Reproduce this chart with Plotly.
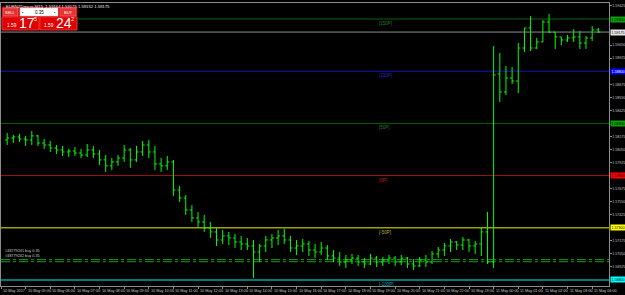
import plotly.graph_objects as go
import pandas as pd

# ---------------- data ----------------
bar_open = [1.58141, 1.58160, 1.58170, 1.58151, 1.58141, 1.58180, 1.58112, 1.58093, 1.58064, 1.58045,
            1.58026, 1.58035, 1.58016, 1.57997, 1.58045, 1.58007, 1.57950, 1.57893, 1.57931, 1.57968,
            1.58045, 1.57950, 1.58026, 1.58093, 1.58026, 1.57912, 1.57893, 1.57931, 1.57662, 1.57585,
            1.57471, 1.57394, 1.57356, 1.57298, 1.57260, 1.57183, 1.57222, 1.57202, 1.57164, 1.57145,
            1.57126, 1.57068, 1.57126, 1.57183, 1.57202, 1.57222, 1.57183, 1.57106, 1.57126, 1.57145,
            1.57087, 1.57068, 1.57106, 1.57030, 1.57010, 1.56972, 1.56991, 1.57010, 1.56972, 1.56953,
            1.57010, 1.56972, 1.56991, 1.57010, 1.56972, 1.57010, 1.56953, 1.56934, 1.56991, 1.56972,
            1.57049, 1.57087, 1.57126, 1.57164, 1.57135, 1.57183, 1.57126, 1.57145, 1.57260, 1.56972,
            1.58773, 1.58601, 1.58735, 1.58706, 1.59022, 1.59214, 1.59022, 1.59080, 1.59271, 1.59175,
            1.59128, 1.59099, 1.59118, 1.59128, 1.59070, 1.59118, 1.59195]
bar_high = [1.58208, 1.58189, 1.58199, 1.58180, 1.58227, 1.58189, 1.58151, 1.58131, 1.58093, 1.58084,
            1.58055, 1.58074, 1.58055, 1.58103, 1.58084, 1.58045, 1.57997, 1.57968, 1.57997, 1.58093,
            1.58064, 1.58084, 1.58131, 1.58141, 1.58084, 1.57968, 1.57988, 1.57950, 1.57701, 1.57614,
            1.57518, 1.57452, 1.57423, 1.57356, 1.57298, 1.57279, 1.57260, 1.57241, 1.57222, 1.57202,
            1.57183, 1.57145, 1.57222, 1.57241, 1.57279, 1.57289, 1.57222, 1.57183, 1.57193, 1.57173,
            1.57145, 1.57164, 1.57135, 1.57087, 1.57068, 1.57039, 1.57049, 1.57039, 1.57010, 1.57049,
            1.57030, 1.57020, 1.57039, 1.57030, 1.57039, 1.57020, 1.57001, 1.57020, 1.57039, 1.57077,
            1.57116, 1.57154, 1.57193, 1.57173, 1.57212, 1.57193, 1.57173, 1.57298, 1.57452, 1.59041,
            1.58974, 1.58850, 1.58840, 1.59070, 1.59214, 1.59329, 1.59118, 1.59290, 1.59348, 1.59175,
            1.59128, 1.59147, 1.59204, 1.59185, 1.59137, 1.59233, 1.59214]
bar_low = [1.58093, 1.58112, 1.58122, 1.58084, 1.58093, 1.58084, 1.58055, 1.58026, 1.58007, 1.57988,
           1.57978, 1.57988, 1.57968, 1.57978, 1.57968, 1.57902, 1.57835, 1.57854, 1.57893, 1.57931,
           1.57873, 1.57931, 1.57988, 1.57968, 1.57854, 1.57835, 1.57854, 1.57605, 1.57547, 1.57423,
           1.57356, 1.57298, 1.57260, 1.57202, 1.57126, 1.57145, 1.57135, 1.57106, 1.57087, 1.57087,
           1.56819, 1.56972, 1.57068, 1.57106, 1.57135, 1.57145, 1.57068, 1.57039, 1.57068, 1.57030,
           1.57010, 1.57039, 1.56991, 1.56972, 1.56934, 1.56914, 1.56953, 1.56934, 1.56914, 1.56943,
           1.56924, 1.56934, 1.56953, 1.56934, 1.56943, 1.56914, 1.56896, 1.56924, 1.56924, 1.56953,
           1.57010, 1.57030, 1.57068, 1.57087, 1.57087, 1.57068, 1.57049, 1.57030, 1.56953, 1.56914,
           1.58505, 1.58572, 1.58677, 1.58591, 1.58984, 1.58993, 1.59013, 1.59080, 1.59166, 1.59013,
           1.59051, 1.59080, 1.59080, 1.59013, 1.59013, 1.59089, 1.59166]
bar_close = [1.58160, 1.58170, 1.58151, 1.58141, 1.58180, 1.58112, 1.58093, 1.58064, 1.58045, 1.58026,
             1.58035, 1.58016, 1.57997, 1.58045, 1.58007, 1.57950, 1.57893, 1.57931, 1.57968, 1.58045,
             1.57950, 1.58026, 1.58093, 1.58026, 1.57912, 1.57893, 1.57931, 1.57662, 1.57585, 1.57471,
             1.57394, 1.57356, 1.57298, 1.57260, 1.57183, 1.57222, 1.57202, 1.57164, 1.57145, 1.57126,
             1.57068, 1.57126, 1.57183, 1.57202, 1.57222, 1.57183, 1.57106, 1.57126, 1.57145, 1.57087,
             1.57068, 1.57106, 1.57030, 1.57010, 1.56972, 1.56991, 1.57010, 1.56972, 1.56953, 1.57010,
             1.56972, 1.56991, 1.57010, 1.56972, 1.57010, 1.56953, 1.56934, 1.56991, 1.56972, 1.57049,
             1.57087, 1.57126, 1.57164, 1.57135, 1.57183, 1.57126, 1.57145, 1.57260, 1.56972, 1.58764,
             1.58601, 1.58735, 1.58706, 1.59022, 1.59214, 1.59022, 1.59080, 1.59271, 1.59175, 1.59128,
             1.59099, 1.59118, 1.59128, 1.59070, 1.59118, 1.59195, 1.59175]
bar_time = pd.date_range("2017-05-10 04:15", periods=len(bar_open), freq="15min")

price_ticks = [1.59425, 1.59300, 1.59175, 1.59050, 1.58925, 1.58800, 1.58675, 1.58550, 1.58425,
               1.58300, 1.58175, 1.58050, 1.57925, 1.57800, 1.57675, 1.57550, 1.57425, 1.57300,
               1.57175, 1.57050, 1.56925, 1.56800]

hour_ticks = pd.date_range("2017-05-10 04:00", periods=25, freq="1h")
hour_labels = ["10 May 2017", "10 May 05:00", "10 May 06:00", "10 May 07:00", "10 May 08:00",
               "10 May 09:00", "10 May 10:00", "10 May 11:00", "10 May 12:00", "10 May 13:00",
               "10 May 14:00", "10 May 15:00", "10 May 16:00", "10 May 17:00", "10 May 18:00",
               "10 May 19:00", "10 May 20:00", "10 May 21:00", "10 May 22:00", "10 May 23:00",
               "11 May 00:00", "11 May 01:00", "11 May 02:00", "11 May 03:00", "11 May 04:00"]

level_prices = [1.59300, 1.58800, 1.58300, 1.57800, 1.57300, 1.56800]
level_labels = ["[150P]", "[100P]", "[50P]", "[0P]", "[-50P]", "[-100P]"]
order_prices = [1.56995, 1.56975]
order_labels = ["#48779241 buy 0.35", "#48779242 buy 0.35"]
bid_price = 1.59175
title_text = "EURNZDmicro,M15  1.59164 1.59175 1.59152 1.59175"
lot_size = "0.35"
sell_quote = ["1.59", "17", "5"]
buy_quote = ["1.59", "24", "2"]

# ---------------- styling ----------------
level_line_colors = ["#0a640a", "#1818b4", "#0a640a", "#a01414", "#a0a000", "#00a0a0"]
level_line_widths = [1, 1, 1, 1, 1.6, 1.6]
level_text_colors = ["#2a7a2a", "#2828c8", "#2a7a2a", "#c02020", "#b4b420", "#20a8a8"]
box_bg = ["#0ca00c", "#0000ff", "#0ca00c", "#ff0000", "#ffff00", "#00ffff"]
box_fg = ["#000000", "#ffffff", "#000000", "#000000", "#000000", "#000000"]
FONT = "Liberation Sans"
AXFS = 3.6

W, H = 625, 295
ML, MR, MT, MB = 1, 16, 3, 9
PW, PH = W - ML - MR, H - MT - MB


def px(xp):
    return (xp - ML) / PW


def py(yp):
    return 1 - (yp - MT) / PH


fig = go.Figure()
fig.add_trace(go.Ohlc(
    x=bar_time, open=bar_open, high=bar_high, low=bar_low, close=bar_close,
    increasing_line_color="#00ff00", decreasing_line_color="#00ff00",
    line_width=1, tickwidth=0.32, hoverinfo="skip"))

shapes = []
annotations = []

# level lines + labels + price boxes
label_time = pd.Timestamp("2017-05-10 19:15")
for p, lab, lc, lw, tc, bg, fg in zip(level_prices, level_labels, level_line_colors,
                                      level_line_widths, level_text_colors, box_bg, box_fg):
    shapes.append(dict(type="line", xref="paper", yref="y", x0=0, x1=1, y0=p, y1=p,
                       line=dict(color=lc, width=lw), layer="below"))
    annotations.append(dict(x=label_time, y=p, xref="x", yref="y", text=lab, showarrow=False,
                            xanchor="left", yanchor="top", yshift=0,
                            font=dict(size=4.5, color=tc, family=FONT)))
    annotations.append(dict(x=1, y=p, xref="paper", yref="y", text=f"{p:.5f}", showarrow=False,
                            xanchor="left", yanchor="middle", xshift=1, bgcolor=bg, borderpad=0.5,
                            font=dict(size=AXFS, color=fg, family=FONT)))

# bid line
shapes.append(dict(type="line", xref="paper", yref="y", x0=0, x1=1, y0=bid_price, y1=bid_price,
                   line=dict(color="#8c8c8c", width=1), layer="below"))
annotations.append(dict(x=1, y=bid_price, xref="paper", yref="y", text=f"{bid_price:.5f}",
                        showarrow=False, xanchor="left", yanchor="middle", xshift=1,
                        bgcolor="#e6e6e6", borderpad=0.5, font=dict(size=AXFS, color="#000000", family=FONT)))

# order lines
for k, (p, lab) in enumerate(zip(order_prices, order_labels)):
    shapes.append(dict(type="line", xref="paper", yref="y", x0=0, x1=1, y0=p, y1=p,
                       line=dict(color="#11a011", width=1, dash="dashdot"), layer="below"))
    annotations.append(dict(x=px(3), y=order_prices[0], xref="paper", yref="y", text=lab,
                            showarrow=False, xanchor="left", yanchor="bottom",
                            yshift=(4.5 if k == 0 else 0),
                            font=dict(size=3.8, color="#c8c8c8", family=FONT)))

box_prices = level_prices + [bid_price]
shown_ticks = [t for t in price_ticks if all(abs(t - b) > 1e-7 for b in box_prices)]

# x tick labels (left aligned at tick, MT4 style)
for t, lab in zip(hour_ticks, hour_labels):
    annotations.append(dict(x=t, y=0, xref="x", yref="paper", text=lab, showarrow=False,
                            xanchor="left", yanchor="top", xshift=0, yshift=-1,
                            font=dict(size=3.8, color="#c8c8c8", family=FONT)))

# title
annotations.append(dict(x=px(4), y=py(2), xref="paper", yref="paper", text=title_text,
                        showarrow=False, xanchor="left", yanchor="top",
                        font=dict(size=4.2, color="#e6e6e6", family=FONT)))


# one-click trading panel
def rect(x0, y0, x1, y1, fill, line=None):
    shapes.append(dict(type="rect", xref="paper", yref="paper", x0=px(x0), x1=px(x1),
                       y0=py(y1), y1=py(y0), fillcolor=fill,
                       line=dict(color=line or fill, width=0.6), layer="above"))


def text(x, y, s, size, color="#ffffff", xa="left", ya="middle"):
    annotations.append(dict(x=px(x), y=py(y), xref="paper", yref="paper", text=s, showarrow=False,
                            xanchor=xa, yanchor=ya, borderpad=0,
                            font=dict(size=size, color=color, family=FONT)))


rect(2, 7, 77, 30, "#c80000")
rect(3, 8, 18, 16, "#e43232", "#ff7070")
rect(20, 8, 58, 16, "#ffffff", "#d0d0d0")
rect(60, 8, 76, 16, "#e43232", "#ff7070")
rect(2, 17, 39, 30, "#e00000", "#ff5050")
rect(40, 17, 77, 30, "#e00000", "#ff5050")
text(10.5, 12, "SELL", 4, xa="center")
text(68, 12, "BUY", 4, xa="center")
text(39, 12, lot_size, 4.5, color="#000000", xa="center")
text(23, 12, "▪", 4, color="#404040", xa="center")
text(55, 12, "▪", 4, color="#404040", xa="center")
for x0, q in ((6, sell_quote), (43, buy_quote)):
    text(x0, 25.5, q[0], 4.8)
    text(x0 + 12, 23.5, q[1], 14)
    text(x0 + 26.5, 19, q[2], 5.5)

fig.update_layout(
    width=W, height=H, margin=dict(l=ML, r=MR, t=MT, b=MB),
    paper_bgcolor="#000000", plot_bgcolor="#000000", showlegend=False,
    font=dict(family=FONT, color="#c8c8c8"),
    shapes=shapes, annotations=annotations,
    xaxis=dict(type="date", range=["2017-05-10 04:00", "2017-05-11 04:41"],
               showgrid=False, zeroline=False, showline=True, linecolor="#8c8c8c", linewidth=1,
               mirror=True, ticks="outside", ticklen=2, tickcolor="#8c8c8c",
               tickvals=list(hour_ticks), showticklabels=False, rangeslider=dict(visible=False),
               fixedrange=True),
    yaxis=dict(side="right", range=[1.567421, 1.594533], showgrid=False, zeroline=False,
               showline=True, linecolor="#8c8c8c", linewidth=1, mirror=True,
               ticks="outside", ticklen=1.5, tickcolor="#8c8c8c",
               tickvals=shown_ticks, ticktext=[f"{t:.5f}" for t in shown_ticks],
               ticklabelstandoff=0,
               tickfont=dict(size=AXFS, color="#c8c8c8", family=FONT), automargin=False,
               fixedrange=True),
)

fig.write_html("out.html")
